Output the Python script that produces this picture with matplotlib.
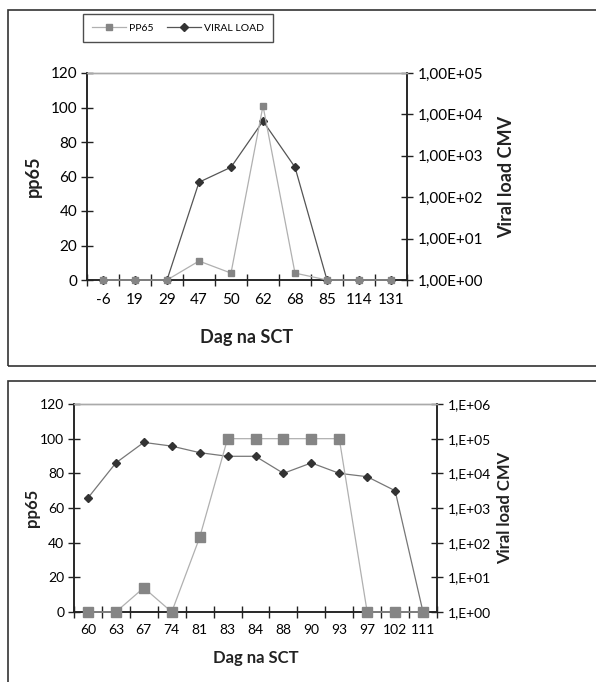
import matplotlib
matplotlib.use("Agg")
import matplotlib.pyplot as plt
from matplotlib.patches import Rectangle
from matplotlib.lines import Line2D
from matplotlib.ticker import FixedLocator, NullFormatter

plt.rcParams['font.family'] = ['Lato', 'DejaVu Sans']

# ---- data: top chart ----
top_days = ["-6", "19", "29", "47", "50", "62", "68", "85", "114", "131"]
top_pp65 = [0, 0, 0, 11, 4, 101, 4, 0, 0, 0]
top_viral = [1, 1, 1, 230, 530, 6900, 530, 1, 1, 1]
top_right_ticks = [1e0, 1e1, 1e2, 1e3, 1e4, 1e5]
top_right_labels = ["1,00E+00", "1,00E+01", "1,00E+02", "1,00E+03", "1,00E+04", "1,00E+05"]

# ---- data: bottom chart ----
bot_days = ["60", "63", "67", "74", "81", "83", "84", "88", "90", "93", "97", "102", "111"]
bot_pp65 = [0, 0, 14, 0, 43, 100, 100, 100, 100, 100, 0, 0, 0]
bot_viral = [1950, 20000, 78000, 61000, 39500, 31000, 31000, 10000, 20000, 10000, 8000, 3150, 1]
bot_right_ticks = [1e0, 1e1, 1e2, 1e3, 1e4, 1e5, 1e6]
bot_right_labels = ["1,E+00", "1,E+01", "1,E+02", "1,E+03", "1,E+04", "1,E+05", "1,E+06"]

left_ticks = [0, 20, 40, 60, 80, 100, 120]

W, H = 596, 682
fig = plt.figure(figsize=(W / 100, H / 100), dpi=100)

def fx(px):
    return px / W

def fy(py):
    return 1 - py / H

# frames
fig.add_artist(Rectangle((fx(8), fy(366)), 1.0, fy(10) - fy(366), transform=fig.transFigure,
                         fill=False, edgecolor='#333333', linewidth=1.2))
fig.add_artist(Rectangle((fx(8), fy(700)), 1.0, fy(381) - fy(700), transform=fig.transFigure,
                         fill=False, edgecolor='#333333', linewidth=1.2))

PP_LINE = '#b0b0b0'
PP_MARK = '#858585'
VL_LINE = '#555555'
VL_MARK = '#333333'
AX_COL = '#222222'


def make_panel(rect, days, pp65, viral, rticks, rlabels, ymax_log, fs, sq, dm,
               xlab_y, ylab_x, rlab_x, tickpad, vl_color):
    ax = fig.add_axes(rect)
    n = len(days)
    xs = [i + 0.5 for i in range(n)]
    ax.set_xlim(0, n)
    ax.set_ylim(0, 120)
    ax2 = ax.twinx()
    ax2.set_yscale('log')
    ax2.set_ylim(1, ymax_log)

    ax2.plot(xs, viral, color=vl_color, linewidth=0.9, marker='D', markersize=dm,
             markerfacecolor=VL_MARK, markeredgecolor=VL_MARK, zorder=3, clip_on=False)
    ax.plot(xs, pp65, color=PP_LINE, linewidth=0.9, marker='s', markersize=sq,
            markerfacecolor=PP_MARK, markeredgecolor=PP_MARK, zorder=4, clip_on=False)
    ax.set_zorder(ax2.get_zorder() + 1)
    ax.patch.set_visible(False)

    # x ticks: labels at centers, tick marks at boundaries
    ax.set_xticks(xs)
    ax.set_xticklabels(days, fontsize=fs)
    ax.tick_params(axis='x', which='major', length=0, pad=tickpad)
    ax.xaxis.set_minor_locator(FixedLocator(list(range(n + 1))))
    ax.xaxis.set_minor_formatter(NullFormatter())
    ax.tick_params(axis='x', which='minor', direction='inout', length=8, width=1, color=AX_COL)

    ax.set_yticks(left_ticks)
    ax.set_yticklabels([str(t) for t in left_ticks], fontsize=fs)
    ax.tick_params(axis='y', direction='inout', length=8, width=1, color=AX_COL, pad=3)

    ax2.set_yticks(rticks)
    ax2.set_yticklabels(rlabels, fontsize=fs)
    ax2.yaxis.set_minor_locator(FixedLocator([]))
    ax2.tick_params(axis='y', direction='inout', length=8, width=1, color=AX_COL, pad=4)

    for a in (ax, ax2):
        a.spines['top'].set_color('#aaaaaa')
        a.spines['top'].set_linewidth(1.0)
        for s in ('left', 'right', 'bottom'):
            a.spines[s].set_color(AX_COL)
            a.spines[s].set_linewidth(1.1)

    fig.text(rect[0] + rect[2] / 2, fy(xlab_y), "Dag na SCT", ha='center', va='center',
             fontsize=fs + 2, fontweight='bold', color='#222222')
    ymid = rect[1] + rect[3] / 2
    fig.text(fx(ylab_x), ymid, "pp65", ha='center', va='center', rotation=90,
             fontsize=fs + 2, fontweight='bold', color='#222222')
    fig.text(fx(rlab_x), ymid, "Viral load CMV", ha='center', va='center', rotation=90,
             fontsize=fs + 2, fontweight='bold', color='#222222')
    return ax, ax2


# top panel: axes x 87..407, y 73..280
ax_t, ax_t2 = make_panel([fx(87), fy(280), fx(407) - fx(87), fy(73) - fy(280)],
                         top_days, top_pp65, top_viral, top_right_ticks, top_right_labels,
                         1e5, 11, 5, 4.5, 337, 33, 507, 9, '#555555')

# bottom panel: axes x 74..437, y 404..612
ax_b, ax_b2 = make_panel([fx(74), fy(612), fx(437) - fx(74), fy(404) - fy(612)],
                         bot_days, bot_pp65, bot_viral, bot_right_ticks, bot_right_labels,
                         1e6, 10, 7.5, 3.8, 658, 32, 505, 9, '#777777')

# legend for top panel
handles = [
    Line2D([], [], color=PP_LINE, linewidth=0.9, marker='s', markersize=5,
           markerfacecolor=PP_MARK, markeredgecolor=PP_MARK),
    Line2D([], [], color=VL_LINE, linewidth=0.9, marker='D', markersize=4.5,
           markerfacecolor=VL_MARK, markeredgecolor=VL_MARK),
]
leg = fig.legend(handles, ["PP65", "VIRAL LOAD"], loc='center',
                 bbox_to_anchor=(fx(178), fy(28)), ncol=2, fontsize=7.5,
                 frameon=True, fancybox=False, handlelength=3.3, handletextpad=0.25,
                 columnspacing=1.3, borderpad=0.9, borderaxespad=0)
leg.get_frame().set_edgecolor('#222222')
leg.get_frame().set_linewidth(1.0)

fig.savefig("out.png", dpi=100)
